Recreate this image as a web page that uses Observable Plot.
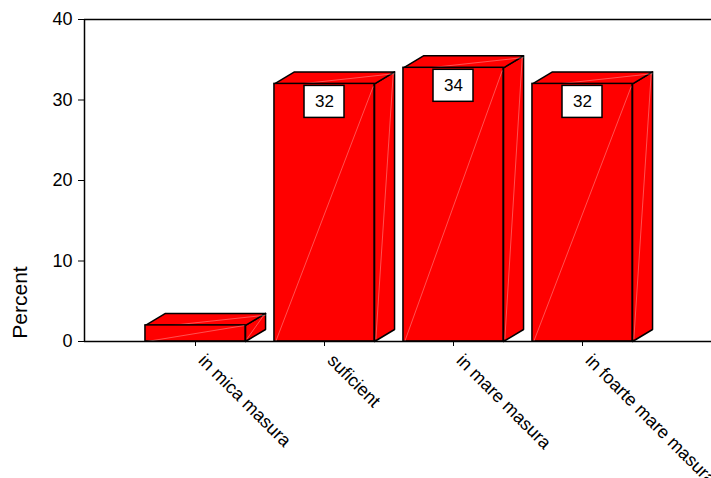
<!DOCTYPE html>
<html>
<head>
<meta charset="utf-8">
<script src="https://cdn.jsdelivr.net/npm/d3@7"></script>
<script src="https://cdn.jsdelivr.net/npm/@observablehq/plot@0.6"></script>
<style>
  html, body { margin: 0; padding: 0; background: #fff; overflow: hidden; }
  #chart svg { display: block; }
</style>
</head>
<body>
<div id="chart"></div>
<script>
// ---- data ----
const categories = ["in mica masura", "suficient", "in mare masura", "in foarte mare masura"];
const percents = [2, 32, 34, 32];
const yTicks = [0, 10, 20, 30, 40];
const yLabel = "Percent";

// ---- geometry (in scale units) ----
const HALF = 0.388;      // half of front face width
const DX = 0.155;        // 3D depth, horizontal
const DY = 1.49;         // 3D depth, vertical
const BOX = 0.155;       // half width of the value box

const data = categories.map((c, i) => ({i, cat: c, v: percents[i], x0: i - HALF, x1: i + HALF}));

const poly = (pts, z) => pts.map(([x, y]) => ({x, y, z}));
const tops = data.flatMap(d => poly([[d.x0, d.v], [d.x1, d.v], [d.x1 + DX, d.v + DY], [d.x0 + DX, d.v + DY], [d.x0, d.v]], d.i));
const sides = data.flatMap(d => poly([[d.x1, 0], [d.x1, d.v], [d.x1 + DX, d.v + DY], [d.x1 + DX, DY], [d.x1, 0]], d.i));
const labeled = data.filter(d => d.v >= 10);

const RED = "#ff0000";
const HL = "#ffd6d6";
const FONT = "'Liberation Sans', Arial, sans-serif";

const chart = Plot.plot({
  width: 711,
  height: 478,
  marginLeft: 84,
  marginRight: 0,
  marginTop: 19,
  marginBottom: 137,
  style: {fontFamily: FONT, fontSize: "18px", color: "#000", background: "#fff"},
  x: {domain: [-0.8605, 4.0], ticks: data.map(d => d.i), tickFormat: () => "", tickSize: 5, label: null},
  y: {domain: [0, 40], ticks: yTicks, tickSize: 6, tickPadding: 6, label: null},
  marks: [
    // side faces
    Plot.line(sides, {x: "x", y: "y", z: "z", fill: RED, stroke: "#000", strokeWidth: 1.5, curve: "linear"}),
    Plot.link(data, {x1: d => d.x1 + 0.01, y1: 0.3, x2: d => d.x1 + DX - 0.01, y2: d => d.v + DY * 0.9, stroke: HL, strokeWidth: 0.7, strokeOpacity: 0.55}),
    // top faces
    Plot.line(tops, {x: "x", y: "y", z: "z", fill: RED, stroke: "#000", strokeWidth: 1.5, curve: "linear"}),
    Plot.link(data, {x1: d => d.x0 + 0.2, y1: d => d.v, x2: d => d.x1 + DX, y2: d => d.v + DY * 0.85, stroke: HL, strokeWidth: 0.7, strokeOpacity: 0.55}),
    // front faces
    Plot.rect(data, {x1: "x0", x2: "x1", y1: 0, y2: "v", fill: RED, stroke: "#000", strokeWidth: 1.5}),
    Plot.link(data, {x1: d => d.x0 + 0.01, y1: 0, x2: d => d.x1 - 0.01, y2: d => d.v * 0.99, stroke: HL, strokeWidth: 0.7, strokeOpacity: 0.55}),
    // value boxes
    Plot.rect(labeled, {x1: d => d.i - BOX, x2: d => d.i + BOX, y1: "v", y2: "v", insetTop: 2, insetBottom: -34, fill: "#fff", stroke: "#000", strokeWidth: 1.5}),
    Plot.text(labeled, {x: "i", y: "v", text: d => String(d.v), dy: 18, fontSize: 17, fill: "#000"}),
    // axes frame
    Plot.ruleY([0, 40], {stroke: "#000", strokeWidth: 1.5}),
    Plot.ruleX([-0.8605], {y1: 0, y2: 40, stroke: "#000", strokeWidth: 1.5}),
    // category labels
    Plot.text(data, {x: "i", y: 0, text: "cat", rotate: 45, textAnchor: "start", dx: 6, dy: 16, fontSize: 18, fill: "#000"}),
    // y label
    Plot.text([yLabel], {frameAnchor: "bottom-left", text: d => d, rotate: -90, textAnchor: "middle", lineAnchor: "middle", dx: -64, dy: -39, fontSize: 21, fill: "#000"})
  ]
});
document.getElementById("chart").appendChild(chart);
</script>
</body>
</html>
